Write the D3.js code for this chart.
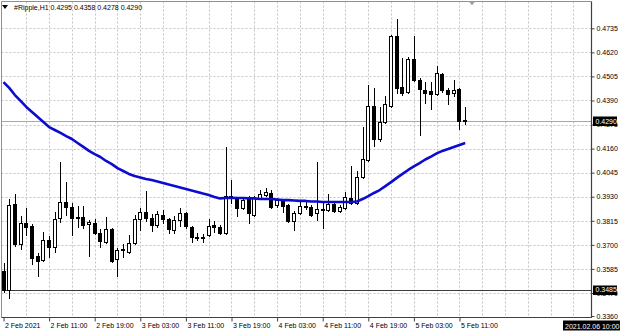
<!DOCTYPE html>
<html>
<head>
<meta charset="utf-8">
<script src="https://cdn.jsdelivr.net/npm/d3@7"></script>
<style>
body { margin: 0; background: #fff; }
svg { display: block; }
.axis text { font-family: "Liberation Sans", Arial, sans-serif; font-size: 7px; fill: #000; }
</style>
</head>
<body>
<div class="chart"></div>
<script>
// hourly candles, 2 Feb 03:00 .. 5 Feb 12:00
let open = [0.3575,0.3484,0.3895,0.3704,0.3804,0.3790,0.3647,0.3628,0.3723,0.3690,
  0.3828,0.3905,0.3881,0.3833,0.3833,0.3800,0.3804,0.3757,0.3714,0.3776,
  0.3632,0.3675,0.3666,0.3709,0.3824,0.3857,0.3828,0.3795,0.3843,0.3824,
  0.3771,0.3819,0.3852,0.3785,0.3738,0.3733,0.3747,0.3795,0.3785,0.3757,
  0.3929,0.3924,0.3876,0.3919,0.3843,0.3924,0.3938,0.3948,0.3890,0.3914,
  0.3890,0.3812,0.3852,0.3886,0.3881,0.3852,0.3867,0.3867,0.3895,0.3862,
  0.3876,0.3926,0.3900,0.4024,0.4106,0.4364,0.4204,0.4287,0.4364,0.4698,
  0.4454,0.4431,0.4588,0.4488,0.4440,0.4433,0.4423,0.4517,0.4440,0.4426,
  0.4445,0.4295];
let high = [0.3613,0.3919,0.3943,0.3838,0.3876,0.3800,0.3661,0.3762,0.3742,0.3857,
  0.4096,0.4000,0.3900,0.3886,0.3886,0.3819,0.3824,0.3776,0.3833,0.3781,
  0.3685,0.3704,0.3747,0.3843,0.3876,0.3957,0.3848,0.3862,0.3867,0.3828,
  0.3838,0.3876,0.3857,0.3790,0.3757,0.3752,0.3824,0.3814,0.3795,0.4168,
  0.4010,0.3929,0.3924,0.3934,0.3934,0.3962,0.3972,0.3962,0.3924,0.3919,
  0.3895,0.3862,0.3905,0.3905,0.3890,0.4096,0.3910,0.3943,0.3900,0.3890,
  0.3953,0.4077,0.4053,0.4263,0.4464,0.4450,0.4359,0.4411,0.4703,0.4779,
  0.4593,0.4598,0.4698,0.4497,0.4478,0.4476,0.4555,0.4521,0.4450,0.4488,
  0.4450,0.4358];
let low = [0.3475,0.3446,0.3695,0.3680,0.3747,0.3609,0.3551,0.3623,0.3642,0.3666,
  0.3809,0.3843,0.3747,0.3785,0.3781,0.3647,0.3752,0.3690,0.3709,0.3618,
  0.3551,0.3642,0.3661,0.3704,0.3771,0.3814,0.3766,0.3785,0.3804,0.3757,
  0.3757,0.3790,0.3781,0.3714,0.3723,0.3714,0.3742,0.3762,0.3752,0.3752,
  0.3900,0.3838,0.3871,0.3804,0.3838,0.3919,0.3934,0.3876,0.3881,0.3857,
  0.3809,0.3771,0.3848,0.3871,0.3838,0.3819,0.3781,0.3862,0.3857,0.3857,
  0.3871,0.3895,0.3895,0.4020,0.4101,0.4172,0.4196,0.4282,0.4359,0.4426,
  0.4416,0.4426,0.4483,0.4225,0.4378,0.4349,0.4416,0.4431,0.4373,0.4411,
  0.4254,0.4278];
let close = [0.3484,0.3890,0.3704,0.3804,0.3785,0.3637,0.3623,0.3723,0.3690,0.3824,
  0.3905,0.3881,0.3828,0.3831,0.3795,0.3809,0.3757,0.3718,0.3776,0.3623,
  0.3675,0.3678,0.3709,0.3824,0.3857,0.3828,0.3795,0.3848,0.3824,0.3776,
  0.3819,0.3852,0.3790,0.3738,0.3735,0.3738,0.3790,0.3783,0.3757,0.3934,
  0.3934,0.3876,0.3914,0.3852,0.3924,0.3943,0.3953,0.3881,0.3914,0.3886,
  0.3812,0.3852,0.3886,0.3888,0.3843,0.3871,0.3869,0.3895,0.3864,0.3881,
  0.3929,0.3900,0.4024,0.4110,0.4364,0.4204,0.4287,0.4373,0.4698,0.4450,
  0.4426,0.4588,0.4488,0.4445,0.4428,0.4421,0.4519,0.4440,0.4421,0.4442,
  0.4294,0.4290];
// moving average (blue line)
let ma = [0.4478,0.4450,0.4416,0.4388,0.4359,0.4335,0.4311,0.4287,0.4263,0.4249,
  0.4235,0.4220,0.4206,0.4187,0.4168,0.4149,0.4134,0.4120,0.4101,0.4086,
  0.4067,0.4053,0.4039,0.4029,0.4022,0.4015,0.4010,0.4003,0.3996,0.3988,
  0.3981,0.3974,0.3967,0.3960,0.3953,0.3945,0.3938,0.3929,0.3922,0.3924,
  0.3925,0.3924,0.3924,0.3922,0.3922,0.3919,0.3919,0.3919,0.3917,0.3914,
  0.3914,0.3912,0.3910,0.3910,0.3907,0.3907,0.3905,0.3905,0.3905,0.3905,
  0.3905,0.3905,0.3907,0.3919,0.3933,0.3948,0.3962,0.3981,0.4000,0.4020,
  0.4039,0.4058,0.4075,0.4091,0.4108,0.4122,0.4137,0.4149,0.4158,0.4168,
  0.4177,0.4187];

let timeLabels = ["2 Feb 2021","2 Feb 11:00","2 Feb 19:00","3 Feb 03:00","3 Feb 11:00",
  "3 Feb 19:00","4 Feb 03:00","4 Feb 11:00","4 Feb 19:00","5 Feb 03:00","5 Feb 11:00"];
let timeTickIdx = [0,8,16,24,32,40,48,56,64,72,80];
let priceTicks = [0.4735,0.4620,0.4505,0.4390,0.4275,0.4160,0.4045,0.3930,0.3815,0.3700,0.3585,0.3470,0.3360];
let bidPrice = 0.4290;
let levelPrice = 0.3485;
let titleText = "#Ripple,H1  0.4295 0.4358 0.4278 0.4290";
let serverTime = "2021.02.06 10:00";

let svgWidth = 620;
let svgHeight = 332;
let box = { left: 1.5, top: 1.5, right: 591.5, bottom: 317.5 };

let svg = d3.select(".chart")
  .append("svg")
  .attr("width", svgWidth)
  .attr("height", svgHeight);

let x = d3.scaleLinear().domain([0, 81]).range([3.5, 465.2]);
let y = d3.scaleLinear().domain([0.3360, 0.4735]).range([316, 28.3]);

let px = v => Math.round(v) + 0.5;

// grid
let gridG = svg.append("g")
  .attr("stroke", "#c4c4c4")
  .attr("stroke-dasharray", "2,2")
  .attr("stroke-width", 1);

gridG.selectAll("line.v")
  .data(d3.range(4, 104, 4))
  .enter()
  .append("line")
  .attr("x1", d => px(x(d)))
  .attr("x2", d => px(x(d)))
  .attr("y1", box.top)
  .attr("y2", box.bottom);

gridG.selectAll("line.h")
  .data(priceTicks.slice(0, -1))
  .enter()
  .append("line")
  .attr("x1", box.left)
  .attr("x2", box.right)
  .attr("y1", d => px(y(d)))
  .attr("y2", d => px(y(d)));

// bid line and horizontal level
svg.append("line")
  .attr("x1", box.left).attr("x2", box.right)
  .attr("y1", px(y(bidPrice))).attr("y2", px(y(bidPrice)))
  .attr("stroke", "#a8a8a8");

svg.append("line")
  .attr("x1", box.left).attr("x2", box.right)
  .attr("y1", px(y(levelPrice))).attr("y2", px(y(levelPrice)))
  .attr("stroke", "#3c3c3c");

// candles
let candles = svg.append("g").attr("shape-rendering", "crispEdges");

candles.selectAll("line")
  .data(open)
  .enter()
  .append("line")
  .attr("x1", (d, i) => px(x(i)))
  .attr("x2", (d, i) => px(x(i)))
  .attr("y1", (d, i) => Math.round(y(high[i])))
  .attr("y2", (d, i) => Math.round(y(low[i])) + 1)
  .attr("stroke", "#000");

candles.selectAll("rect")
  .data(open)
  .enter()
  .append("rect")
  .attr("x", (d, i) => Math.round(x(i)) - 1.5)
  .attr("width", 3)
  .attr("y", (d, i) => Math.round(y(Math.max(d, close[i]))) + 0.5)
  .attr("height", (d, i) => Math.max(1, Math.round(y(Math.min(d, close[i]))) - Math.round(y(Math.max(d, close[i])))))
  .attr("fill", (d, i) => close[i] < d ? "#000" : "#fff")
  .attr("stroke", "#000");

// moving average
let maLine = d3.line()
  .x((d, i) => x(i))
  .y(d => y(d))
  .curve(d3.curveLinear);

svg.append("path")
  .datum(ma)
  .attr("d", maLine)
  .attr("fill", "none")
  .attr("stroke", "#0c0cd0")
  .attr("stroke-width", 2.6)
  .attr("stroke-linejoin", "round");

// frame
svg.append("path")
  .attr("d", `M${box.left},${box.bottom}V${box.top}H${box.right}`)
  .attr("fill", "none")
  .attr("stroke", "#909090");

svg.append("path")
  .attr("d", `M${box.left},${box.bottom}H${box.right}V${box.top}`)
  .attr("fill", "none")
  .attr("stroke", "#404040")
  .attr("stroke-width", 1.2);

// axes
let rightAxis = d3.axisRight(y)
  .tickValues(priceTicks)
  .tickFormat(d3.format(".4f"))
  .tickSize(3)
  .tickPadding(2)
  .tickSizeOuter(0);

let rAx = svg.append("g")
  .attr("class", "axis")
  .attr("transform", `translate(${box.right},0)`)
  .call(rightAxis);
rAx.select(".domain").remove();
rAx.selectAll("line").attr("stroke", "#404040");

let bottomAxis = d3.axisBottom(x)
  .tickValues(timeTickIdx)
  .tickFormat((d, i) => timeLabels[i])
  .tickSize(4)
  .tickPadding(2)
  .tickSizeOuter(0);

let bAx = svg.append("g")
  .attr("class", "axis")
  .attr("transform", `translate(0,${box.bottom})`)
  .call(bottomAxis);
bAx.select(".domain").remove();
bAx.selectAll("line").attr("stroke", "#404040");
bAx.selectAll("text").attr("text-anchor", "start").attr("x", 1);

// price boxes on the right scale
[bidPrice, levelPrice].forEach(p => {
  let g = svg.append("g").attr("class", "axis");
  g.append("rect")
    .attr("x", 593).attr("y", Math.round(y(p)) - 4.5)
    .attr("width", 24).attr("height", 9.5)
    .attr("fill", "#000");
  g.append("text")
    .attr("x", 595.5).attr("y", y(p)).attr("dy", "0.32em")
    .style("fill", "#fff")
    .text(d3.format(".4f")(p));
});

// server time box
let tg = svg.append("g").attr("class", "axis");
let tRect = tg.append("rect").attr("fill", "#000");
let tText = tg.append("text")
  .attr("x", 565).attr("y", 328.5)
  .style("fill", "#fff")
  .text(serverTime);
let bb = tText.node().getBBox();
tRect.attr("x", bb.x - 2).attr("y", 320.5)
  .attr("width", bb.width + 4).attr("height", 10);

// title
svg.append("path")
  .attr("d", "M2,5L8,5L5,9Z")
  .attr("fill", "#000");
svg.append("text")
  .attr("class", "axis")
  .attr("x", 14).attr("y", 10)
  .style("font-family", "'Liberation Sans', Arial, sans-serif")
  .style("font-size", "7px")
  .text(titleText);

// chart shift marker
svg.append("path")
  .attr("d", "M469,1.5L475,1.5L472,5.5Z")
  .attr("fill", "#a0a0a0");
</script>
</body>
</html>
